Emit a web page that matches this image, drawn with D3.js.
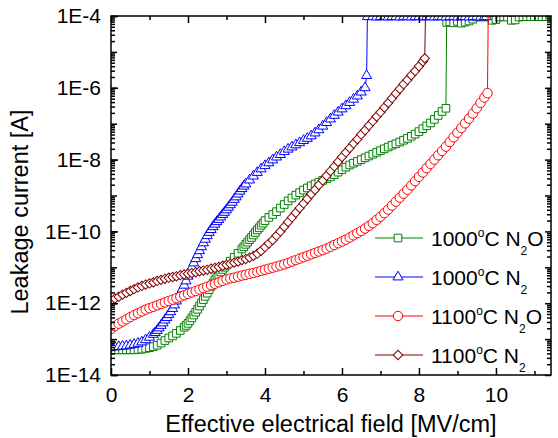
<!DOCTYPE html>
<html>
<head>
<meta charset="utf-8">
<script src="https://cdn.jsdelivr.net/npm/d3@7"></script>
<style>
  body { margin: 0; background: #fff; }
  svg { display: block; font-family: "Liberation Sans", Arial, sans-serif; }
</style>
</head>
<body>
<svg id="chart"></svg>
<script>
// [field MV/cm, log10(current A)]
const n2o1000 = [
  [0.0,-13.30],[0.1,-13.30],[0.2,-13.30],[0.3,-13.30],[0.4,-13.30],[0.5,-13.30],[0.6,-13.30],[0.7,-13.29],[0.8,-13.28],[0.9,-13.26],
  [1.0,-13.24],[1.1,-13.21],[1.2,-13.17],[1.3,-13.11],[1.4,-13.04],[1.5,-12.97],[1.6,-12.91],[1.7,-12.84],[1.8,-12.76],[1.9,-12.67],
  [1.95,-12.62],[2.0,-12.56],[2.05,-12.49],[2.1,-12.41],[2.15,-12.33],[2.2,-12.25],[2.25,-12.17],[2.3,-12.08],[2.35,-11.99],[2.4,-11.90],
  [2.45,-11.81],[2.5,-11.72],[2.55,-11.62],[2.6,-11.53],[2.65,-11.44],[2.7,-11.35],[2.75,-11.27],[2.8,-11.20],[2.85,-11.13],[2.9,-11.06],
  [2.95,-11.00],[3.0,-10.94],[3.1,-10.83],[3.2,-10.72],[3.3,-10.61],[3.4,-10.49],[3.45,-10.43],[3.5,-10.36],[3.55,-10.30],[3.6,-10.23],
  [3.65,-10.17],[3.7,-10.10],[3.75,-10.03],[3.8,-9.96],[3.85,-9.90],[3.9,-9.83],[3.95,-9.77],
  [4.0,-9.70],[4.1,-9.61],[4.2,-9.53],[4.3,-9.45],[4.4,-9.35],[4.5,-9.25],[4.6,-9.15],[4.7,-9.07],[4.8,-8.99],[4.9,-8.92],
  [5.0,-8.85],[5.1,-8.79],[5.2,-8.73],[5.3,-8.68],[5.4,-8.63],[5.5,-8.58],[5.6,-8.53],[5.7,-8.48],[5.8,-8.42],[5.9,-8.35],
  [6.0,-8.28],[6.1,-8.21],[6.2,-8.15],[6.3,-8.10],[6.4,-8.05],[6.5,-8.00],[6.6,-7.95],[6.7,-7.90],[6.8,-7.85],[6.9,-7.80],
  [7.0,-7.75],[7.1,-7.70],[7.2,-7.65],[7.3,-7.60],[7.4,-7.56],[7.5,-7.51],[7.6,-7.46],[7.7,-7.41],[7.8,-7.35],[7.9,-7.29],
  [8.0,-7.22],[8.1,-7.14],[8.2,-7.06],[8.3,-6.98],[8.4,-6.88],[8.5,-6.77],[8.6,-6.66],[8.7,-6.57],
  [8.72,-4.18],[8.8,-4.16],[8.9,-4.19],[9.0,-4.15],[9.1,-4.20],[9.2,-4.17],[9.3,-4.14],[9.4,-4.09],[9.5,-4.03],[9.6,-4.02],
  [9.7,-4.03],[9.8,-4.02],[9.9,-4.12],[10.0,-4.10],[10.1,-4.03],[10.2,-4.02],[10.3,-4.03],[10.4,-4.12],[10.5,-4.11],[10.6,-4.03],
  [10.7,-4.02],[10.8,-4.02],[10.9,-4.02],[11.0,-4.02],[11.1,-4.02],[11.2,-4.02],[11.3,-4.02],[11.4,-4.02]
];
const n21000 = [
  [0.0,-13.22],[0.1,-13.22],[0.2,-13.21],[0.3,-13.20],[0.4,-13.19],[0.5,-13.17],[0.6,-13.15],[0.7,-13.12],[0.8,-13.08],[0.9,-13.02],
  [1.0,-12.95],[1.1,-12.87],[1.15,-12.82],[1.2,-12.76],[1.25,-12.69],[1.3,-12.62],[1.35,-12.55],[1.4,-12.47],[1.45,-12.40],[1.5,-12.32],
  [1.55,-12.24],[1.6,-12.15],[1.65,-12.05],[1.7,-11.94],[1.75,-11.83],[1.8,-11.72],[1.85,-11.61],[1.9,-11.50],[1.95,-11.38],[2.0,-11.25],
  [2.05,-11.13],[2.1,-11.00],[2.15,-10.88],[2.2,-10.76],[2.25,-10.65],[2.3,-10.54],[2.35,-10.43],[2.4,-10.32],[2.45,-10.22],[2.5,-10.12],
  [2.55,-10.03],[2.6,-9.95],[2.65,-9.87],[2.7,-9.80],[2.75,-9.73],[2.8,-9.67],[2.85,-9.60],[2.9,-9.53],[2.95,-9.47],[3.0,-9.40],
  [3.05,-9.33],[3.1,-9.26],[3.15,-9.19],[3.2,-9.11],[3.25,-9.04],[3.3,-8.96],[3.35,-8.88],[3.4,-8.81],[3.45,-8.74],[3.5,-8.68],
  [3.6,-8.57],[3.7,-8.46],[3.8,-8.36],[3.9,-8.26],
  [4.0,-8.17],[4.1,-8.09],[4.2,-8.01],[4.3,-7.93],[4.4,-7.86],[4.5,-7.78],[4.6,-7.71],[4.7,-7.65],[4.8,-7.59],[4.9,-7.53],
  [5.0,-7.47],[5.1,-7.41],[5.2,-7.34],[5.3,-7.26],[5.4,-7.17],[5.5,-7.07],[5.6,-6.97],[5.7,-6.87],[5.8,-6.77],[5.9,-6.68],
  [6.0,-6.59],[6.1,-6.50],[6.2,-6.41],[6.3,-6.32],[6.4,-6.23],[6.5,-6.12],[6.6,-6.00],[6.64,-5.66],
  [6.66,-4.02],[6.8,-4.02],[6.9,-4.03],[7.0,-4.02],[7.1,-4.02],[7.2,-4.03],[7.3,-4.02],[7.4,-4.02],[7.5,-4.03],[7.6,-4.02],
  [7.7,-4.02],[7.8,-4.03],[7.9,-4.02],[8.0,-4.02],[8.1,-4.03],[8.2,-4.02],[8.3,-4.02],[8.4,-4.03],[8.5,-4.02],[8.6,-4.02],
  [8.7,-4.03],[8.8,-4.02],[8.9,-4.02],[9.0,-4.03],[9.1,-4.02],[9.2,-4.02],[9.3,-4.03],[9.4,-4.02],[9.5,-4.02],[9.6,-4.03],
  [9.7,-4.02],[9.75,-4.02]
];
const n2o1100 = [
  [0.0,-12.72],[0.1,-12.64],[0.2,-12.57],[0.3,-12.51],[0.4,-12.45],[0.5,-12.39],[0.6,-12.33],[0.7,-12.28],[0.8,-12.23],[0.9,-12.18],
  [1.0,-12.14],[1.1,-12.10],[1.2,-12.06],[1.3,-12.02],[1.4,-11.98],[1.5,-11.94],[1.6,-11.90],[1.7,-11.86],[1.8,-11.82],[1.9,-11.78],
  [2.0,-11.74],[2.1,-11.70],[2.2,-11.66],[2.3,-11.62],[2.4,-11.58],[2.5,-11.54],[2.6,-11.50],[2.7,-11.46],[2.8,-11.42],[2.9,-11.38],
  [3.0,-11.34],[3.1,-11.31],[3.2,-11.29],[3.3,-11.26],[3.4,-11.23],[3.5,-11.21],[3.6,-11.18],[3.7,-11.16],[3.8,-11.13],[3.9,-11.10],
  [4.0,-11.07],[4.1,-11.04],[4.2,-11.01],[4.3,-10.98],[4.4,-10.95],[4.5,-10.92],[4.6,-10.88],[4.7,-10.84],[4.8,-10.80],[4.9,-10.76],
  [5.0,-10.72],[5.1,-10.68],[5.2,-10.64],[5.3,-10.60],[5.4,-10.56],[5.5,-10.52],[5.6,-10.48],[5.7,-10.43],[5.8,-10.38],[5.9,-10.33],
  [6.0,-10.28],[6.1,-10.23],[6.2,-10.17],[6.3,-10.11],[6.4,-10.05],[6.5,-9.99],[6.6,-9.92],[6.7,-9.85],[6.8,-9.77],[6.9,-9.68],
  [7.0,-9.59],[7.1,-9.49],[7.2,-9.39],[7.3,-9.28],[7.4,-9.17],[7.5,-9.06],[7.6,-8.95],[7.7,-8.84],[7.8,-8.72],[7.9,-8.60],
  [8.0,-8.48],[8.1,-8.36],[8.2,-8.24],[8.3,-8.12],[8.4,-8.00],[8.5,-7.88],[8.6,-7.76],[8.7,-7.64],[8.8,-7.51],[8.9,-7.38],
  [9.0,-7.25],[9.1,-7.12],[9.2,-6.99],[9.3,-6.86],[9.4,-6.72],[9.5,-6.57],[9.6,-6.42],[9.7,-6.27],[9.78,-6.15],
  [9.8,-3.9]
];
const n21100 = [
  [0.0,-11.93],[0.1,-11.87],[0.2,-11.82],[0.3,-11.76],[0.4,-11.71],[0.5,-11.66],[0.6,-11.61],[0.7,-11.56],[0.8,-11.52],[0.9,-11.48],
  [1.0,-11.45],[1.1,-11.42],[1.2,-11.38],[1.3,-11.35],[1.4,-11.32],[1.5,-11.29],[1.6,-11.27],[1.7,-11.25],[1.8,-11.22],[1.9,-11.20],
  [2.0,-11.18],[2.1,-11.16],[2.2,-11.14],[2.3,-11.11],[2.4,-11.09],[2.5,-11.07],[2.6,-11.04],[2.7,-11.02],[2.8,-10.99],[2.9,-10.96],
  [3.0,-10.93],[3.1,-10.90],[3.2,-10.87],[3.3,-10.84],[3.4,-10.80],[3.5,-10.77],[3.6,-10.73],[3.7,-10.68],[3.8,-10.62],[3.9,-10.54],
  [4.0,-10.44],[4.1,-10.34],[4.2,-10.24],[4.3,-10.12],[4.4,-10.00],[4.5,-9.87],[4.6,-9.74],[4.7,-9.61],[4.8,-9.48],[4.9,-9.35],
  [5.0,-9.22],[5.1,-9.09],[5.2,-8.96],[5.3,-8.84],[5.4,-8.71],[5.5,-8.58],[5.6,-8.45],[5.7,-8.32],[5.8,-8.19],[5.9,-8.06],
  [6.0,-7.93],[6.1,-7.80],[6.2,-7.68],[6.3,-7.55],[6.4,-7.43],[6.5,-7.30],[6.6,-7.18],[6.7,-7.05],[6.8,-6.93],[6.9,-6.80],
  [7.0,-6.68],[7.1,-6.55],[7.2,-6.42],[7.3,-6.29],[7.4,-6.16],[7.5,-6.03],[7.6,-5.90],[7.7,-5.78],[7.8,-5.65],[7.9,-5.53],
  [8.0,-5.40],[8.1,-5.27],[8.15,-5.18],
  [8.17,-3.9]
];

const seriesNames = ["1000°C N2O", "1000°C N2", "1100°C N2O", "1100°C N2"];
const seriesColors = ["#008000", "#0000ff", "#ff0000", "#800000"];
const seriesData = [n2o1000, n21000, n2o1100, n21100];

const xTicks = [0, 2, 4, 6, 8, 10];
const xMinorTicks = [1, 3, 5, 7, 9, 11];
const yTicks = [1e-14, 1e-12, 1e-10, 1e-8, 1e-6, 1e-4];
const yTickLabels = ["1E-14", "1E-12", "1E-10", "1E-8", "1E-6", "1E-4"];

// marker shapes: square, triangle, circle, diamond (rotated square)
const markers = [
  { type: d3.symbolSquare, size: 58, rot: 0 },
  { type: d3.symbolTriangle, size: 44, rot: 0 },
  { type: d3.symbolCircle, size: 70, rot: 0 },
  { type: d3.symbolSquare, size: 44, rot: 45 }
];

const W = 558, H = 438;
const margin = { top: 16, right: 7, bottom: 63, left: 111 };
const width = W - margin.left - margin.right;
const height = H - margin.top - margin.bottom;

const svg = d3.select('#chart').attr('width', W).attr('height', H);
const chart = svg.append('g').attr('transform', `translate(${margin.left},${margin.top})`);

const x = d3.scaleLinear().domain([0, 11.43]).range([0, width]);
const y = d3.scaleLog().domain([1e-14, 1e-4]).range([height, 0]);

svg.append('defs').append('clipPath').attr('id', 'plot-clip')
  .append('rect').attr('width', width).attr('height', height);

// series
const plot = chart.append('g').attr('clip-path', 'url(#plot-clip)');
const line = d3.line().x(d => x(d[0])).y(d => y(Math.pow(10, d[1])));

seriesData.forEach((data, i) => {
  const g = plot.append('g');
  const mk = markers[i];
  g.append('path')
    .datum(data)
    .attr('d', line)
    .attr('fill', 'none')
    .attr('stroke', seriesColors[i])
    .attr('stroke-width', 1);
  g.selectAll('path.pt')
    .data(data)
    .join('path')
    .attr('class', 'pt')
    .attr('d', d3.symbol().type(mk.type).size(mk.size))
    .attr('transform', d => `translate(${x(d[0])},${y(Math.pow(10, d[1]))}) rotate(${mk.rot})`)
    .attr('fill', '#fff')
    .attr('stroke', seriesColors[i])
    .attr('stroke-width', 1);
});

// axes, ticks inward on all sides
const allY = y.ticks(20);
const decades = allY.filter(v => Math.abs(Math.log10(v) % 1) < 1e-6);
const minorY = allY.filter(v => Math.abs(Math.log10(v) % 1) > 1e-6);

function styleAxis(g) {
  g.select('.domain').remove();
  g.selectAll('line').attr('stroke', '#000').attr('stroke-width', 1.5);
  g.selectAll('text').attr('fill', '#000').style('font-size', '21px')
    .style('font-family', '"Liberation Sans", Arial, sans-serif');
}

chart.append('g').attr('transform', `translate(0,${height})`)
  .call(d3.axisBottom(x).tickValues(xTicks).tickSizeInner(-7).tickSizeOuter(0).tickPadding(12).tickFormat(d3.format('d')))
  .call(styleAxis);
chart.append('g').attr('transform', `translate(0,${height})`)
  .call(d3.axisBottom(x).tickValues(xMinorTicks).tickSizeInner(-4).tickSizeOuter(0).tickFormat(''))
  .call(styleAxis);
chart.append('g')
  .call(d3.axisTop(x).tickValues(xTicks).tickSizeInner(-7).tickSizeOuter(0).tickFormat(''))
  .call(styleAxis);
chart.append('g')
  .call(d3.axisTop(x).tickValues(xMinorTicks).tickSizeInner(-4).tickSizeOuter(0).tickFormat(''))
  .call(styleAxis);

chart.append('g')
  .call(d3.axisLeft(y).tickValues(yTicks).tickSizeInner(-7).tickSizeOuter(0).tickPadding(10)
    .tickFormat((d, i) => yTickLabels[i]))
  .call(styleAxis);
chart.append('g')
  .call(d3.axisLeft(y).tickValues(decades).tickSizeInner(-6).tickSizeOuter(0).tickFormat(''))
  .call(styleAxis);
chart.append('g')
  .call(d3.axisLeft(y).tickValues(minorY).tickSizeInner(-4).tickSizeOuter(0).tickFormat(''))
  .call(styleAxis);
chart.append('g').attr('transform', `translate(${width},0)`)
  .call(d3.axisRight(y).tickValues(decades).tickSizeInner(-6).tickSizeOuter(0).tickFormat(''))
  .call(styleAxis);
chart.append('g').attr('transform', `translate(${width},0)`)
  .call(d3.axisRight(y).tickValues(minorY).tickSizeInner(-4).tickSizeOuter(0).tickFormat(''))
  .call(styleAxis);

chart.append('rect')
  .attr('width', width).attr('height', height)
  .attr('fill', 'none').attr('stroke', '#000').attr('stroke-width', 1.5);

// axis titles
svg.append('text')
  .attr('x', margin.left + width / 2).attr('y', 432)
  .attr('text-anchor', 'middle').style('font-size', '23.5px')
  .text('Effective electrical field [MV/cm]');
svg.append('text')
  .attr('transform', 'translate(28,212) rotate(-90)')
  .attr('text-anchor', 'middle').style('font-size', '23.5px')
  .text('Leakage current [A]');

// legend
const legend = svg.append('g');
seriesNames.forEach((name, i) => {
  const ly = 238 + i * 39;
  const mk = markers[i];
  const row = legend.append('g').attr('transform', `translate(375,${ly})`);
  row.append('line').attr('x1', 0).attr('x2', 48).attr('stroke', seriesColors[i]).attr('stroke-width', 1);
  row.append('path')
    .attr('d', d3.symbol().type(mk.type).size(mk.size))
    .attr('transform', `translate(23,0) rotate(${mk.rot})`)
    .attr('fill', '#fff').attr('stroke', seriesColors[i]).attr('stroke-width', 1);
  const m = name.match(/^(\d+)°C N2(O?)$/);
  const t = row.append('text').attr('x', 56).attr('y', 8).style('font-size', '21px');
  t.append('tspan').text(m[1]);
  t.append('tspan').attr('dy', -9).style('font-size', '12px').text('o');
  t.append('tspan').attr('dy', 9).text('C N');
  t.append('tspan').attr('dy', 9).style('font-size', '12px').text('2');
  t.append('tspan').attr('dy', -9).text(m[2]);
});
</script>
</body>
</html>
